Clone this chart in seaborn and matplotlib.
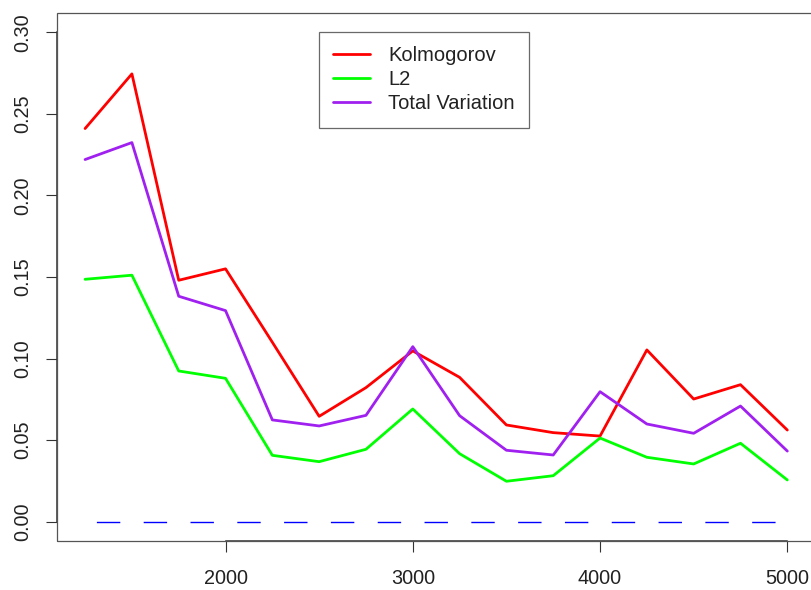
import numpy as np
import pandas as pd
import matplotlib
matplotlib.use("Agg")
import matplotlib.pyplot as plt
import seaborn as sns
from matplotlib.patches import Rectangle
from matplotlib.lines import Line2D

# ---- data ----
n_values = [1250, 1500, 1750, 2000, 2250, 2500, 2750, 3000,
            3250, 3500, 3750, 4000, 4250, 4500, 4750, 5000]
kolmogorov = [0.241, 0.2745, 0.148, 0.155, 0.110, 0.0646, 0.0822, 0.1047,
              0.0885, 0.0593, 0.0546, 0.0525, 0.1053, 0.0752, 0.084, 0.0562]
l2 = [0.1486, 0.1511, 0.0924, 0.0879, 0.0407, 0.0368, 0.0444, 0.0691,
      0.0417, 0.0248, 0.0282, 0.0513, 0.0395, 0.0354, 0.0481, 0.0256]
total_variation = [0.222, 0.2324, 0.1382, 0.1294, 0.0624, 0.0587, 0.0652, 0.1073,
                   0.065, 0.0438, 0.0409, 0.0797, 0.0599, 0.0542, 0.0709, 0.0433]
zero_line = [0.0] * len(n_values)
series_names = ["Kolmogorov", "L2", "Total Variation"]
series_colors = ["#FF0000", "#00FF00", "#A020F0"]
x_ticks = [2000, 3000, 4000, 5000]
y_ticks = [0.00, 0.05, 0.10, 0.15, 0.20, 0.25, 0.30]

sns.set_style("white")
plt.rcParams["font.family"] = ["Liberation Sans", "DejaVu Sans"]

W, H = 812, 590
fig = plt.figure(figsize=(W / 100, H / 100), dpi=100)
left, right, top, bottom = 57, 815.4, 12.7, 541.3
ax = fig.add_axes([left / W, (H - bottom) / H, (right - left) / W, (bottom - top) / H])

df = pd.DataFrame({"n": n_values * 3,
                   "value": kolmogorov + l2 + total_variation,
                   "series": sum([[s] * len(n_values) for s in series_names], [])})
sns.lineplot(data=df, x="n", y="value", hue="series", hue_order=series_names,
             palette=dict(zip(series_names, series_colors)), linewidth=2.0,
             legend=False, ax=ax)

# dashed zero reference line
sns.lineplot(x=n_values, y=zero_line, color="#0000FF", linewidth=1.0, ax=ax,
             linestyle=(25.5, (16.85, 16.85)))

ax.set_xlim(1100, 5150)
ax.set_ylim(-0.012, 0.312)
ax.set_xlabel("")
ax.set_ylabel("")
ax.set_xticks(x_ticks)
ax.set_xticklabels([str(v) for v in x_ticks])
ax.set_yticks(y_ticks)
ax.set_yticklabels([f"{v:.2f}" for v in y_ticks], rotation=90, va="center")

ax.tick_params(axis="both", which="major", bottom=True, left=True,
               direction="out", length=8, width=0.8, color="#333333",
               labelsize=14.3, labelcolor="#222222")
ax.tick_params(axis="x", pad=12)
ax.tick_params(axis="y", pad=10)

for s in ["top", "right"]:
    ax.spines[s].set_visible(False)
ax.spines["left"].set_bounds(0, 0.30)
ax.spines["bottom"].set_bounds(2000, 5000)
for s in ["left", "bottom"]:
    ax.spines[s].set_color("#333333")
    ax.spines[s].set_linewidth(1.1)
box = Rectangle((0, 0), 1, 1, transform=ax.transAxes, fill=False,
                edgecolor="#555555", linewidth=0.9, clip_on=False, zorder=3)
ax.add_patch(box)

handles = [Line2D([], [], color=c, linewidth=2.0) for c in series_colors]
leg = ax.legend(handles, series_names, loc="upper left",
                bbox_to_anchor=((319 - left) / (right - left), (bottom - 32.3) / (bottom - top)),
                borderaxespad=0, frameon=True, fancybox=False, shadow=False,
                fontsize=14.5, handlelength=1.85, handletextpad=0.9,
                labelspacing=0.25, borderpad=0.7)
leg.get_frame().set_edgecolor("#444444")
leg.get_frame().set_linewidth(0.9)
for t in leg.get_texts():
    t.set_color("#222222")

fig.savefig("out.png", dpi=100)
